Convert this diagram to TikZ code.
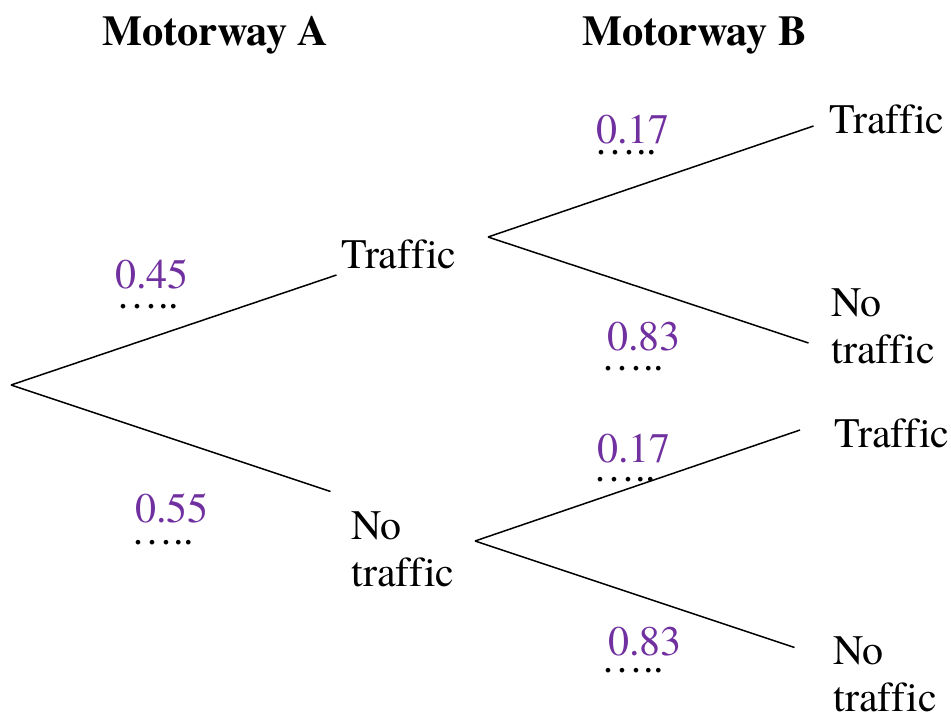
\documentclass[tikz,border=0pt]{standalone}
\usepackage{fontspec}
\setmainfont{texgyretermes}[Extension=.otf,UprightFont=*-regular,BoldFont=*-bold,ItalicFont=*-italic,BoldItalicFont=*-bolditalic,Ligatures=NoCommon]
\definecolor{probpurple}{RGB}{112,48,160}
\begin{document}
\begin{tikzpicture}[x=0.5pt,y=-0.5pt,
  branch/.style={line width=0.75pt},
  lbl/.style={anchor=base west,inner sep=0pt,font=\fontsize{21}{23.5}\selectfont,align=left},
  head/.style={anchor=base west,inner sep=0pt,font=\fontsize{21.2}{23.5}\selectfont\bfseries},
  prob/.style={anchor=base west,inner sep=0pt,font=\fontsize{21}{23.5}\selectfont,text=probpurple},
  blank/.style={anchor=base west,inner sep=0pt,font=\fontsize{21}{23.5}\selectfont}]
\useasboundingbox (0,0) rectangle (951,719);

% column headings
\node[head] (hA) at (102,45) {Motorway A};
\node[head] (hB) at (582,45) {Motorway B};

% branch points
\coordinate (root) at (11,385);
\coordinate (aT) at (336.5,275);
\coordinate (aN) at (330.5,491.5);
\coordinate (bT) at (488,237);
\coordinate (bTT) at (813.5,126);
\coordinate (bTN) at (808.5,343);
\coordinate (bN) at (475,541);
\coordinate (bNT) at (800,430);
\coordinate (bNN) at (794.5,647.5);

% branches
\draw[branch] (root) -- (aT);
\draw[branch] (root) -- (aN);
\draw[branch] (bT) -- (bTT);
\draw[branch] (bT) -- (bTN);
\draw[branch] (bN) -- (bNT);
\draw[branch] (bN) -- (bNN);

% outcomes (two-line labels are placed by their last baseline)
\node[lbl] (tA) at (341,268) {Traffic};
\node[lbl] (nA) at (351,586) {No\\traffic};
\node[lbl] (tTT) at (829,133) {Traffic};
\node[lbl] (tTN) at (831,363) {No\\traffic};
\node[lbl] (tNT) at (834,447) {Traffic};
\node[lbl] (tNN) at (833,711) {No\\traffic};

% probabilities with answer dots
\node[prob] (p1) at (115,288) {0.45};
\node[blank] (d1) at (116,308) {\char"2026..};
\node[prob] (p2) at (135,522) {0.55};
\node[blank] (d2) at (131,544) {\char"2026..};
\node[prob] (p3) at (596,143) {0.17};
\node[blank] (d3) at (594,154) {\char"2026..};
\node[prob] (p4) at (607,350) {0.83};
\node[blank] (d4) at (601,370) {\char"2026..};
\node[prob] (p5) at (597,462) {0.17};
\node[blank] (d5) at (593,481) {\char"2026..};
\node[prob] (p6) at (608,655) {0.83};
\node[blank] (d6) at (601,672) {\char"2026..};
\end{tikzpicture}
\end{document}
